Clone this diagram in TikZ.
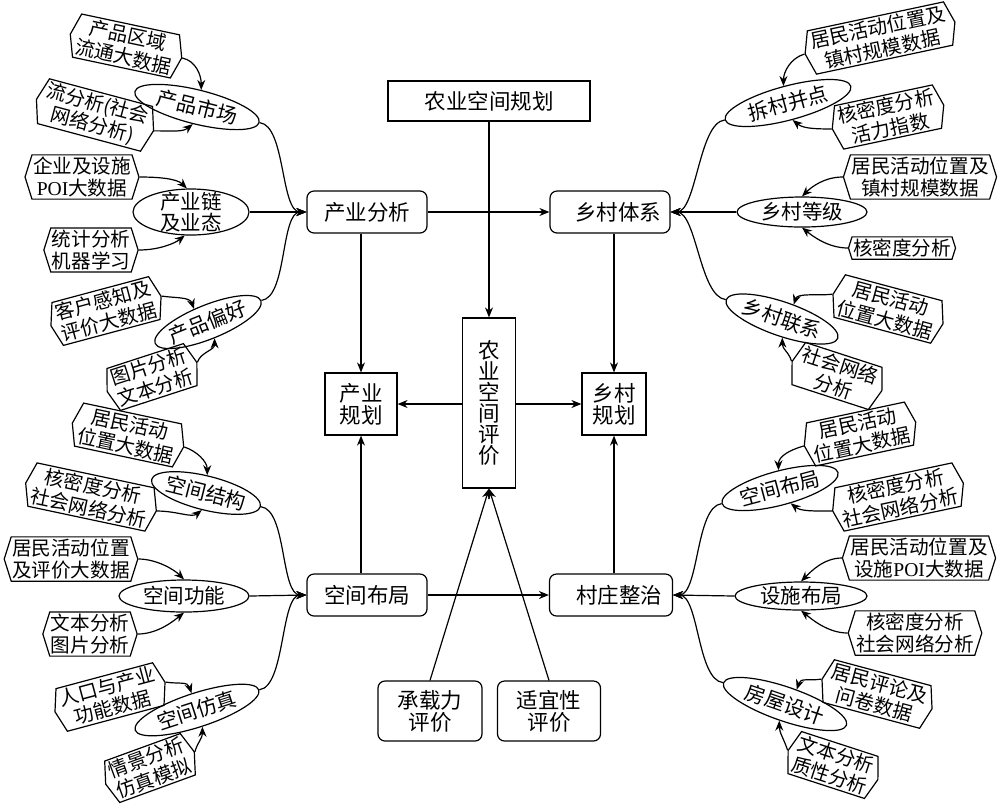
\documentclass[tikz,border=0pt]{standalone}
\usepackage{fontspec}
\setmainfont{Noto Sans CJK SC}
\newfontfamily\lat{Liberation Serif}
\usetikzlibrary{shapes.geometric,shapes.symbols,arrows.meta,calc}
\begin{document}
\begin{tikzpicture}[x=0.5pt,y=-0.5pt,
  line width=0.6pt,
  arr/.style={-{Stealth[length=5pt,width=4pt]}},
  mainbox/.style={draw, font=\fontsize{10.75pt}{11pt}\selectfont, align=center, inner sep=0pt},
  rbox/.style={mainbox, rounded corners=3.5pt},
  ell/.style={ellipse, draw, inner xsep=-8pt, inner ysep=-8pt, font=\fontsize{10.25pt}{10.5pt}\selectfont, align=center},
  tag/.style={signal, signal to=east and west, signal pointer angle=145, draw, align=center, font=\fontsize{9.8pt}{11pt}\selectfont, inner xsep=0.5pt, inner ysep=1pt},
]
\useasboundingbox (0,0) rectangle (1000,805);

% central boxes
\node[mainbox, minimum width=101pt, minimum height=20pt] (ksgh) at (489,101) {农业空间规划};
\node[rbox, minimum width=60pt, minimum height=21pt] (ia) at (367,212) {产业分析};
\node[rbox, minimum width=60pt, minimum height=21pt] (ts) at (610,212) {\hspace*{8pt}乡村体系};
\node[mainbox, minimum width=36pt, minimum height=31pt] (ig) at (361,404) {产业\\规划};
\node[mainbox, minimum width=26.5pt, minimum height=85pt, font=\fontsize{10.75pt}{10.5pt}\selectfont] (pj) at (489,403) {农\\业\\空\\间\\评\\价};
\node[mainbox, minimum width=32pt, minimum height=31pt] (vg) at (614,404) {乡村\\规划};
\node[rbox, minimum width=60pt, minimum height=21pt] (sb) at (367,595) {空间布局};
\node[rbox, minimum width=61.5pt, minimum height=21pt] (cz) at (611,595) {\hspace*{8pt}村庄整治};
\node[rbox, minimum width=52pt, minimum height=30pt] (czl) at (430,711) {承载力\\评价};
\node[rbox, minimum width=51.5pt, minimum height=30pt] (sy) at (549,711) {适宜性\\评价};

\draw[arr] (ksgh.south) -- (pj.north);
\draw[arr] (ia.east) -- (ts.west);
\draw[arr] (ia.south -| ig.north) -- (ig.north);
\draw[arr] (ts.south -| vg.north) -- (vg.north);
\draw[arr] (pj.west |- ig.east) -- (ig.east);
\draw[arr] (pj.east |- vg.west) -- (vg.west);
\draw[arr] (sb.north -| ig.south) -- (ig.south);
\draw[arr] (cz.north -| vg.south) -- (vg.south);
\draw[arr] (sb.east) -- (cz.west);
\draw[arr] (czl.north) -- (pj.south);
\draw[arr] (sy.north) -- (pj.south);

% ellipses
\node[ell, rotate=-14, minimum width=64pt, minimum height=17pt] (e1) at (197,107) {产品市场};
\node[ell, minimum width=58pt, minimum height=23pt] (e2) at (191,212) {产业链\\及业态};
\node[ell, rotate=22, minimum width=57pt, minimum height=17pt] (e3) at (208,322) {产品偏好};
\node[ell, rotate=-14, minimum width=56pt, minimum height=17pt] (e4) at (206,493) {空间结构};
\node[ell, minimum width=65pt, minimum height=16pt] (e5) at (184,596) {空间功能};
\node[ell, rotate=18, minimum width=65pt, minimum height=17pt] (e6) at (197,710) {空间仿真};
\node[ell, rotate=15, minimum width=65pt, minimum height=17pt] (e7) at (788,103) {拆村并点};
\node[ell, minimum width=65pt, minimum height=15pt] (e8) at (802,212) {乡村等级};
\node[ell, rotate=-19, minimum width=59pt, minimum height=17pt] (e9) at (782,319) {乡村联系};
\node[ell, rotate=15, minimum width=60pt, minimum height=17pt] (e10) at (780,488) {空间布局};
\node[ell, minimum width=66pt, minimum height=14pt] (e11) at (801,596) {设施布局};
\node[ell, rotate=-19, minimum width=65pt, minimum height=17pt] (e12) at (785,704) {房屋设计};

% tags
\node[tag, rotate=-12] (a1) at (126,46) {产品区域\\流通大数据};
\node[tag, rotate=-15] (a2) at (95,115) {流分析(社会\\网络分析)};
\node[tag] (a3) at (82,177) {企业及设施\\{\lat POI}大数据};
\node[tag] (a4) at (91,250) {统计分析\\机器学习};
\node[tag, rotate=15] (a5) at (106,311) {客户感知及\\评价大数据};
\node[tag, rotate=18] (a6) at (152,377) {图片分析\\文本分析};
\node[tag, rotate=-12] (b1) at (128,435) {居民活动\\位置大数据};
\node[tag, rotate=-12] (b2) at (91,497) {核密度分析\\社会网络分析};
\node[tag] (b3) at (71,559) {居民活动位置\\及评价大数据};
\node[tag] (b4) at (90,634) {文本分析\\图片分析};
\node[tag, rotate=15] (b5) at (110,697) {人口与产业\\功能数据};
\node[tag, rotate=20] (b6) at (150,768) {情景分析\\仿真模拟};
\node[tag, rotate=12] (c1) at (880,38) {居民活动位置及\\镇村规模数据};
\node[tag, rotate=12] (c2) at (888,117) {核密度分析\\活力指数};
\node[tag] (c3) at (920,177) {居民活动位置及\\镇村规模数据};
\node[tag] (c4) at (902,248) {核密度分析};
\node[tag, rotate=-15] (c5) at (888,309) {居民活动\\位置大数据};
\node[tag, rotate=-18] (c6) at (837,376) {社会网络\\分析};
\node[tag, rotate=12] (d1) at (860,434) {居民活动\\位置大数据};
\node[tag, rotate=12] (d2) at (898,497) {核密度分析\\社会网络分析};
\node[tag] (d3) at (919,558) {居民活动位置及\\设施{\lat POI}大数据};
\node[tag] (d4) at (915,633) {核密度分析\\社会网络分析};
\node[tag, rotate=-15] (d5) at (877,694) {居民评论及\\问卷数据};
\node[tag, rotate=-18] (d6) at (833,765) {文本分析\\质性分析};

% tag -> ellipse
\draw[arr] (a1.east) .. controls +(14,3) and +(0,-14) .. (e1.north);
\draw[arr] (a2.east) .. controls +(20,0) and +(-10,8) .. (e1.south);
\draw[arr] (a3.east) .. controls +(18,0) and +(-10,-10) .. (e2.100);
\draw[arr] (a4.east) .. controls +(20,0) and +(-10,8) .. (e2.255);
\draw[arr] (a5.east) .. controls +(14,2) and +(-4,-12) .. (e3.115);
\draw[arr] (a6.east) .. controls +(3,-10) and +(0,12) .. (e3.south);
\draw[arr] (b1.east) .. controls +(12,4) and +(0,-14) .. (e4.100);
\draw[arr] (b2.east) .. controls +(20,0) and +(-10,8) .. (e4.south);
\draw[arr] (b3.east) .. controls +(18,0) and +(-10,-10) .. (e5.north);
\draw[arr] (b4.east) .. controls +(20,0) and +(-10,8) .. (e5.south);
\draw[arr] (b5.east) .. controls +(14,2) and +(-4,-12) .. (e6.north);
\draw[arr] (b6.east) .. controls +(3,-10) and +(0,12) .. (e6.south);
\draw[arr] (c1.west) .. controls +(-14,4) and +(0,-14) .. (e7.north);
\draw[arr] (c2.west) .. controls +(-20,0) and +(10,8) .. (e7.south);
\draw[arr] (c3.west) .. controls +(-18,0) and +(10,-10) .. (e8.north);
\draw[arr] (c4.west) .. controls +(-20,0) and +(10,8) .. (e8.south);
\draw[arr] (c5.west) .. controls +(-14,2) and +(4,-12) .. (e9.70);
\draw[arr] (c6.west) .. controls +(-3,-10) and +(0,12) .. (e9.290);
\draw[arr] (d1.west) .. controls +(-14,4) and +(0,-14) .. (e10.80);
\draw[arr] (d2.west) .. controls +(-20,0) and +(10,8) .. (e10.290);
\draw[arr] (d3.west) .. controls +(-18,0) and +(10,-10) .. (e11.north);
\draw[arr] (d4.west) .. controls +(-20,0) and +(10,8) .. (e11.south);
\draw[arr] (d5.west) .. controls +(-14,2) and +(4,-12) .. (e12.70);
\draw[arr] (d6.west) .. controls +(-3,-10) and +(0,12) .. (e12.south);

% ellipse -> main boxes
\draw[arr] (e1.east) .. controls +(26,3) and +(-26,0) .. (ia.west);
\draw[arr] (e2.east) -- (ia.west);
\draw[arr] (e3.east) .. controls +(26,-3) and +(-26,0) .. (ia.west);
\draw[arr] (e4.east) .. controls +(26,3) and +(-26,0) .. (sb.west);
\draw[arr] (e5.east) -- (sb.west);
\draw[arr] (e6.east) .. controls +(26,-3) and +(-26,0) .. (sb.west);
\draw[arr] (e7.west) .. controls +(-26,3) and +(26,0) .. (ts.east);
\draw[arr] (e8.west) -- (ts.east);
\draw[arr] (e9.west) .. controls +(-26,-3) and +(26,0) .. (ts.east);
\draw[arr] (e10.west) .. controls +(-26,3) and +(26,0) .. (cz.east);
\draw[arr] (e11.west) -- (cz.east);
\draw[arr] (e12.west) .. controls +(-26,-3) and +(26,0) .. (cz.east);
\end{tikzpicture}
\end{document}
